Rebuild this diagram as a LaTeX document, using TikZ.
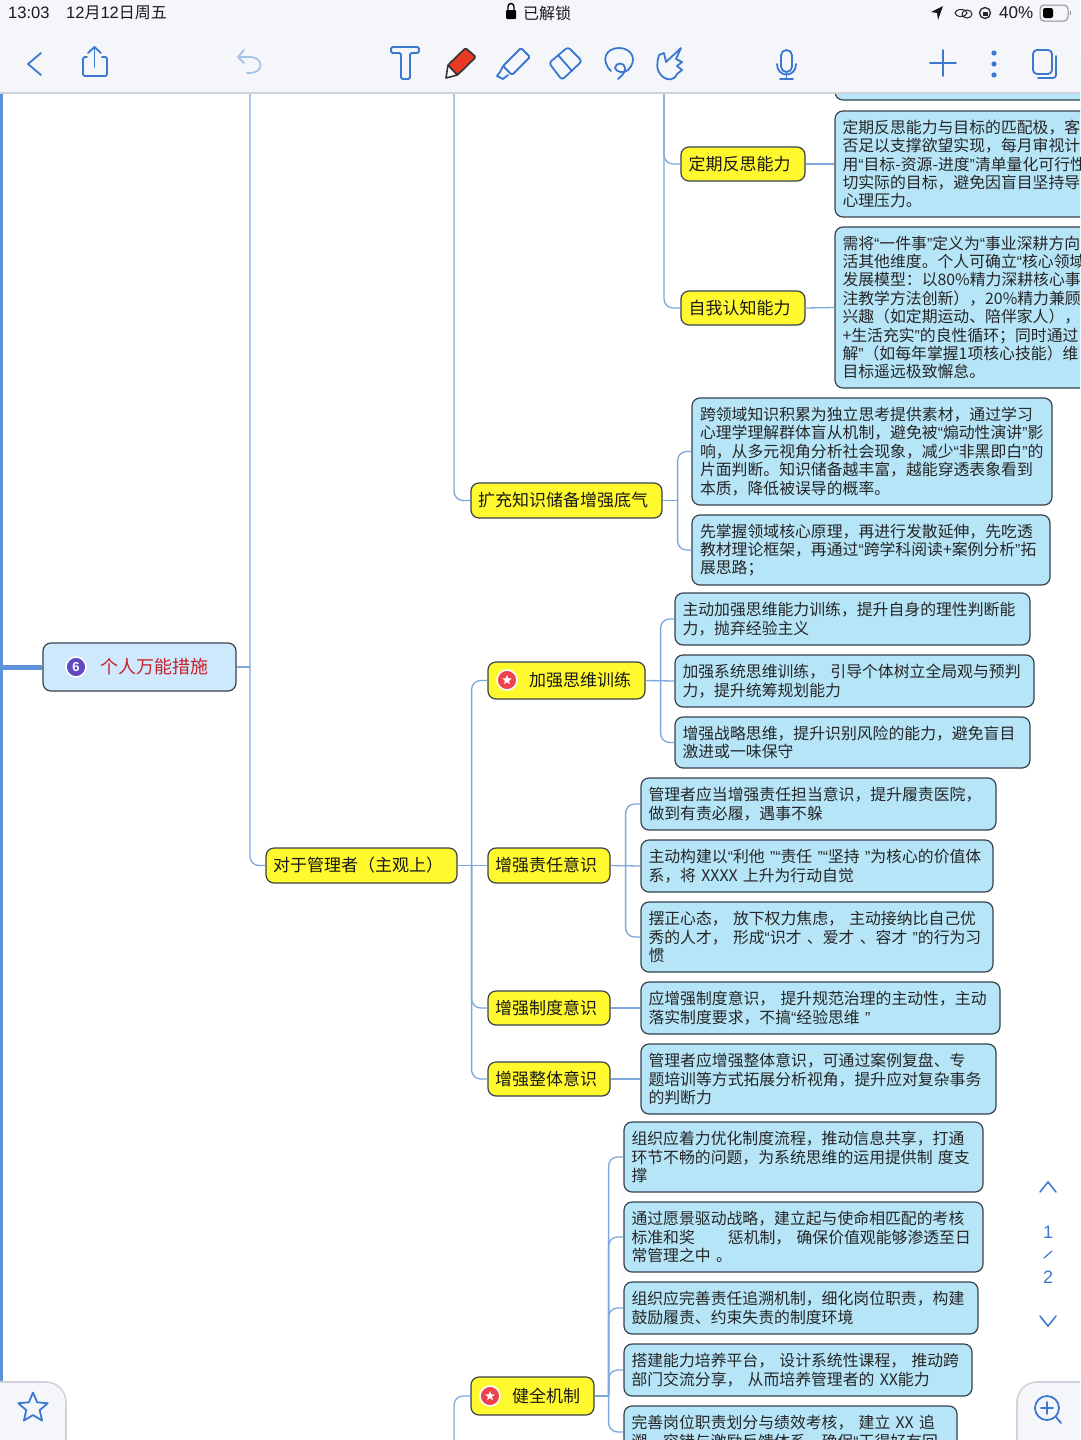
\documentclass[tikz,border=0pt]{standalone}
\usepackage{fontspec}
\setmainfont{Noto Sans CJK SC}
\newfontfamily\latf{Liberation Sans}
\usetikzlibrary{shapes.geometric,calc}
\hfuzz=300pt \hbadness=10000
\newcommand{\oq}{{\latf “}}
\newcommand{\cq}{{\latf ”}}
\newcommand{\lowr}[1]{\raisebox{-0.8pt}{#1}}
\definecolor{ybox}{HTML}{FFF92E}
\definecolor{bbox}{HTML}{B6E5F8}
\definecolor{pbox}{HTML}{CEE8FC}
\definecolor{edgec}{HTML}{36424C}
\definecolor{conn}{HTML}{7EA7DC}
\definecolor{trunk}{HTML}{5C92DA}
\definecolor{barbg}{HTML}{F4F6FA}
\definecolor{barln}{HTML}{CFD4DB}
\definecolor{ico}{HTML}{3A78D2}
\definecolor{icol}{HTML}{A6C3EE}
\tikzset{
  x=1pt,y=-1pt,
  boxbase/.style={draw=edgec,line width=1.2pt,rounded corners=8pt,inner sep=0pt,anchor=center},
  leafbox/.style={boxbase,fill=bbox,align=left,font=\fontsize{15.85}{18.4}\selectfont,text=black!85},
  topicbox/.style={boxbase,fill=ybox,align=left,font=\fontsize{17}{20}\selectfont,text=black!90},
  rootbox/.style={boxbase,fill=pbox,align=right,font=\fontsize{18}{21}\selectfont,text={rgb,255:red,200;green,32;blue,44}},
  link/.style={draw=conn,line width=1.3pt},
  elbow/.style={link,rounded corners=9pt},
  toolicon/.style={draw=ico,line width=1.8pt,line cap=round,line join=round},
  statustext/.style={inner sep=0pt,font=\latf\fontsize{16.5}{18}\selectfont,text=black!90},
  badge/.style={circle,draw=white,line width=1.6pt,minimum size=20pt,inner sep=0pt},
  whitestar/.style={star,star points=5,star point ratio=2.3,fill=white,minimum size=10pt,inner sep=0pt},
}
% name,x1,y1,x2,y2,pad,style,text
\newcommand{\bx}[8]{%
  \pgfmathsetmacro{\cxx}{(#2+#4)/2}%
  \pgfmathsetmacro{\cyy}{(#3+#5)/2}%
  \pgfmathsetmacro{\www}{#4-#2}%
  \pgfmathsetmacro{\hhh}{#5-#3}%
  \pgfmathsetmacro{\ttt}{#4-#2-2*#6}%
  \node[#7,minimum width=\www pt,minimum height=\hhh pt,text width=\ttt pt] (#1) at (\cxx,\cyy) {#8};%
}
\begin{document}
\begin{tikzpicture}
\useasboundingbox (0,0) rectangle (1080,1440);
\clip (0,0) rectangle (1080,1440);
\fill[white] (0,0) rectangle (1080,1440);

% free ends above and below the visible area
\coordinate (top0) at (1.5,94);
\coordinate (bot0) at (1.5,1385);
\coordinate (top1) at (250,94);
\coordinate (top2) at (454,94);
\coordinate (top3) at (664,94);
\coordinate (low2) at (454,1445);

% nodes
\bx{p0}{835}{60}{1200}{100}{8}{leafbox}{}
\bx{rfl}{681}{147}{805}{181}{7.5}{topicbox}{\lowr{定期反思能力}}
\bx{rfltxt}{835}{111}{1200}{217}{7.5}{leafbox}{定期反思能力与目标的匹配极，客\\否足以支撑欲望实现，每月审视计\\用\oq 目标-资源-进度\cq 清单量化可行性\\切实际的目标，避免因盲目坚持导\\心理压力。}
\bx{cog}{681}{291}{805}{325}{7.5}{topicbox}{\lowr{自我认知能力}}
\bx{cogtxt}{835}{227}{1200}{388}{7.5}{leafbox}{需将\oq 一件事\cq 定义为\oq 事业深耕方向\\活其他维度。个人可确立\oq 核心领域\\发展模型：以80\%精力深耕核心事\\注教学方法创新），20\%精力兼顾\\兴趣（如定期运动、陪伴家人），\\+生活充实\cq 的良性循环；同时通过\\解\cq（如每年掌握1项核心技能）维\\目标遥远极致懈怠。}
\bx{know}{471}{483}{662}{518}{7}{topicbox}{\lowr{扩充知识储备增强底气}}
\bx{kn1}{692}{398}{1052}{505}{8}{leafbox}{跨领域知识积累为独立思考提供素材，通过学习\\心理学理解群体盲从机制，避免被\oq 煽动性演讲\cq 影\\响，从多元视角分析社会现象，减少\oq 非黑即白\cq 的\\片面判断。知识储备越丰富，越能穿透表象看到\\本质，降低被误导的概率。}
\bx{kn2}{692}{515}{1050}{585}{8}{leafbox}{先掌握领域核心原理，再进行发散延伸，先吃透\\教材理论框架，再通过\oq 跨学科阅读+案例分析\cq 拓\\展思路；}
\bx{pm}{43}{643}{236}{691}{28}{rootbox}{\lowr{个人万能措施}}
\bx{mgr}{266}{848}{457}{883}{7}{topicbox}{\lowr{对于管理者（主观上）}}
\bx{think}{488}{662}{645}{699}{14}{topicbox,align=right}{\lowr{加强思维训练}}
\bx{th1}{675}{593}{1030}{645}{7.5}{leafbox}{主动加强思维能力训练，提升自身的理性判断能\\力，抛弃经验主义}
\bx{th2}{675}{655}{1034}{707}{7.5}{leafbox}{加强系统思维训练，~引导个体树立全局观与预判\\力，提升统筹规划能力}
\bx{th3}{675}{717}{1030}{768}{7.5}{leafbox}{增强战略思维，提升识别风险的能力，避免盲目\\激进或一味保守}
\bx{resp}{488}{848}{610}{883}{7}{topicbox}{\lowr{增强责任意识}}
\bx{re1}{641}{778}{996}{830}{7.5}{leafbox}{管理者应当增强责任担当意识，提升履责医院，\\做到有责必履，遇事不躲}
\bx{re2}{641}{840}{993}{892}{7.5}{leafbox}{主动构建以\oq 利他~\cq\oq 责任~\cq\oq 坚持~\cq 为核心的价值体\\系，将~XXXX~上升为行动自觉}
\bx{re3}{641}{902}{993}{972}{7.5}{leafbox}{摆正心态，~放下权力焦虑，~主动接纳比自己优\\秀的人才，~形成\oq 识才~、爱才~、容才~\cq 的行为习\\惯}
\bx{inst}{488}{991}{610}{1025}{7}{topicbox}{\lowr{增强制度意识}}
\bx{in1}{641}{982}{1000}{1034}{7.5}{leafbox}{应增强制度意识，~提升规范治理的主动性，主动\\落实制度要求，不搞\oq 经验思维~\cq}
\bx{whole}{488}{1062}{610}{1096}{7}{topicbox}{\lowr{增强整体意识}}
\bx{wh1}{641}{1044}{996}{1114}{7.5}{leafbox}{管理者应增强整体意识，可通过案例复盘、专\\题培训等方式拓展分析视角，提升应对复杂事务\\的判断力}
\bx{mech}{471}{1377}{594}{1415}{14}{topicbox,align=right}{\lowr{健全机制}}
\bx{me1}{624}{1122}{983}{1192}{7.5}{leafbox}{组织应着力优化制度流程，推动信息共享，打通\\环节不畅的问题，为系统思维的运用提供制~度支\\撑}
\bx{me2}{624}{1202}{983}{1272}{7.5}{leafbox}{通过愿景驱动战略，建立起与使命相匹配的考核\\标准和奖\hspace{33pt}惩机制，~确保价值观能够渗透至日\\常管理之中~。}
\bx{me3}{624}{1282}{978}{1334}{7.5}{leafbox}{组织应完善责任追溯机制，细化岗位职责，构建\\鼓励履责、约束失责的制度环境}
\bx{me4}{624}{1344}{972}{1396}{7.5}{leafbox}{搭建能力培养平台，~设计系统性课程，~推动跨\\部门交流分享，~从而培养管理者的~XX能力}
\bx{me5}{624}{1406}{957}{1458}{7.5}{leafbox}{完善岗位职责划分与绩效考核，~建立~XX~追\\溯、容错与激励反馈体系，确保\oq 干得好有回}

% badges
\node[badge,fill={rgb,255:red,96;green,74;blue,196},font=\latf\bfseries\fontsize{13}{13}\selectfont,text=white] (b6) at (76,667) {6};
\node[badge,fill={rgb,255:red,240;green,66;blue,78}] (s1) at (507,680) {};
\node[whitestar] (s1in) at (507,680) {};
\node[badge,fill={rgb,255:red,240;green,66;blue,78}] (s2) at (490,1396) {};
\node[whitestar] (s2in) at (490,1396) {};

% connectors
\draw[draw=trunk,line width=3pt] (top0) -- (bot0);
\draw[draw=trunk,line width=5pt] (pm.west) -- (pm.west -| top0);
\draw[link] (pm.east) -- (pm.east -| top1);
\draw[elbow] (top1) |- (mgr.west);
\draw[elbow] (top2) |- (know.west);
\draw[elbow] (top3) |- (rfl.west);
\draw[elbow] (top3) |- (cog.west);
\draw[link] (rfl.east) -- (rfltxt.west);
\draw[link] (cog.east) -- (cogtxt.west);
\draw[link] (know.east) -- ++(15,0);
\coordinate (h0) at ($(know.east)+(15,0)$);
\draw[elbow] (h0) |- (kn1.west);
\draw[elbow] (h0) |- (kn2.west);
\draw[link] (mgr.east) -- (resp.west);
\coordinate (h1) at ($(mgr.east)+(14,0)$);
\draw[elbow] (h1) |- (think.west);
\draw[elbow] (h1) |- (inst.west);
\draw[elbow] (h1) |- (whole.west);
\draw[link] (think.east) -- (th2.west);
\coordinate (h2) at ($(think.east)+(15,0)$);
\draw[elbow] (h2) |- (th1.west);
\draw[elbow] (h2) |- (th3.west);
\draw[link] (resp.east) -- (re2.west);
\coordinate (h3) at ($(resp.east)+(15,0)$);
\draw[elbow] (h3) |- (re1.west);
\draw[elbow] (h3) |- (re3.west);
\draw[link] (inst.east) -- (in1.west);
\draw[link] (whole.east) -- (wh1.west);
\draw[link] (mech.east) -- ++(14,0);
\coordinate (h4) at ($(mech.east)+(14,0)$);
\draw[elbow] (h4) |- (me1.west);
\draw[elbow] (h4) |- (me2.west);
\draw[elbow] (h4) |- (me3.west);
\draw[elbow] (h4) |- (me4.west);
\draw[elbow] (h4) |- (me5.west);
\draw[elbow] (low2) |- (mech.west);

% top bar
\fill[barbg] (0,0) rectangle (1080,93);
\draw[barln,line width=1.5pt] (0,93) -- (1080,93);
\node[statustext,anchor=west] (clock) at (8,13) {13:03};
\node[statustext,anchor=west,font=\fontsize{16}{18}\selectfont] (date) at (66,13) {{\latf\fontsize{16.5}{18}\selectfont 12}月{\latf\fontsize{16.5}{18}\selectfont 12}日周五};
\node[statustext,anchor=west,font=\fontsize{16}{18}\selectfont] (lock) at (523,13) {已解锁};
\node[statustext,anchor=west,font=\latf\fontsize{17}{18}\selectfont] (batt) at (999,13) {40\%};
% padlock
\fill[black,rounded corners=1pt] (506,10) rectangle (516,19);
\draw[black,line width=1.4pt,rounded corners=3pt] (508,11) -- (508,3.5) -- (514,3.5) -- (514,11);
% location arrow
\fill[black!90] (943,6) -- (931,12) -- (937,13) -- (938,20) -- cycle;
% link icon
\draw[black!85,line width=1pt] (961,13) ellipse (6 and 3.5);
\draw[black!85,line width=1pt] (967,14) ellipse (5 and 4);
% rotation lock
\draw[black!85,line width=1.3pt] (985,13) circle (5.5);
\fill[black!85] (982.5,11.5) rectangle (987.5,16);
% battery
\draw[black!45,line width=1pt,rounded corners=4pt] (1040,5) rectangle (1068,21);
\fill[black,rounded corners=2pt] (1043,8) rectangle (1053,18);
\fill[black!45] (1070,11) rectangle (1071,15);
% toolbar icons
\draw[toolicon] (41,53) -- (28,64) -- (41,75);
\draw[toolicon,rounded corners=2pt] (87,57) -- (83,57) -- (83,76) -- (107,76) -- (107,57) -- (102,57);
\draw[toolicon] (94.5,67) -- (94.5,47);
\draw[toolicon] (88,53) -- (94.5,47) -- (101,53);
\draw[toolicon,draw=icol] (244,50) -- (238,57) -- (244,63);
\draw[toolicon,draw=icol] (238,57) -- (250,57) .. controls (264,57) and (264,73) .. (250,73) -- (247,73);
\draw[toolicon,rounded corners=1.5pt] (391,47) -- (419,47) -- (419,53) -- (410,53) -- (410,79) -- (401,79) -- (401,53) -- (391,53) -- cycle;
\draw[fill=white,draw=black!80,line width=1.6pt,line join=round] (448,65) -- (457.5,75) -- (446,78) -- cycle;
\draw[fill={rgb,255:red,233;green,58;blue,38},draw=black!80,line width=1.6pt,line join=round,rounded corners=1.5pt] (448,65) -- (465.5,48) -- (476,57) -- (457.5,75) -- cycle;
\draw[toolicon,rounded corners=1.5pt] (503,66) -- (521,48) -- (530,57) -- (512,75) -- cycle;
\draw[toolicon] (503,66) -- (500,72) -- (497,76) -- (503,79) -- (508,75);
\draw[toolicon,rounded corners=3pt] (549,63) -- (568,47) -- (582,61) -- (562,80) -- cycle;
\draw[toolicon] (558,55) -- (572,71);
\draw[toolicon] (611,71) .. controls (600,60) and (606,48) .. (619,48) .. controls (632,48) and (638,60) .. (628,70) .. controls (624,74) and (616,72) .. (615,68) .. controls (615,62) and (625,62) .. (625,68) .. controls (625,72) and (623,75) .. (618,79);
\draw[toolicon] (663,77) .. controls (655,70) and (657,62) .. (659,55) -- (664,53) -- (666,62) -- (681,48) -- (676,59) -- (682,62) -- (677,66) -- (682,70) -- (677,74) .. controls (675,80) and (668,81) .. (663,77);
\draw[toolicon,rounded corners=5.4pt] (781,50) rectangle (792,72);
\draw[toolicon] (777,64) .. controls (777,78) and (796,78) .. (796,64);
\draw[toolicon] (786.5,74) -- (786.5,79);
\draw[toolicon] (780,79) -- (793,79);
\draw[toolicon] (930,63) -- (956,63);
\draw[toolicon] (943,50) -- (943,76);
\fill[ico] (994,53) circle (2.6) (994,64) circle (2.6) (994,75) circle (2.6);
\draw[toolicon,rounded corners=4pt] (1033,50) rectangle (1052,74);
\draw[toolicon,rounded corners=3pt] (1056,56) -- (1056,78) -- (1038,78);

% pager
\draw[toolicon,line width=1.5pt,line join=miter] (1040,1192) -- (1048,1182) -- (1056,1192);
\node[inner sep=0pt,text=ico,font=\latf\fontsize{18}{20}\selectfont] (pg1) at (1048,1232) {1};
\draw[toolicon,line width=1.2pt] (1044,1258) -- (1052,1251);
\node[inner sep=0pt,text=ico,font=\latf\fontsize{18}{20}\selectfont] (pg2) at (1048,1277) {2};
\draw[toolicon,line width=1.5pt,line join=miter] (1040,1316) -- (1048,1326) -- (1056,1316);

% bottom panels
\draw[barln,fill=barbg,line width=1.6pt,rounded corners=20pt] (-30,1382) rectangle (66,1470);
\draw[barln,fill=barbg,line width=1.6pt,rounded corners=20pt] (1017,1382) rectangle (1110,1470);
\node[star,star points=5,star point ratio=2.2,draw=ico,line width=1.8pt,minimum size=31pt,inner sep=0pt,line join=round] (fav) at (33,1408) {};
\draw[toolicon] (1047,1408) circle (12);
\draw[toolicon] (1056,1417) -- (1061,1423);
\draw[toolicon] (1041,1408) -- (1053,1408);
\draw[toolicon] (1047,1402) -- (1047,1414);
\end{tikzpicture}
\end{document}
